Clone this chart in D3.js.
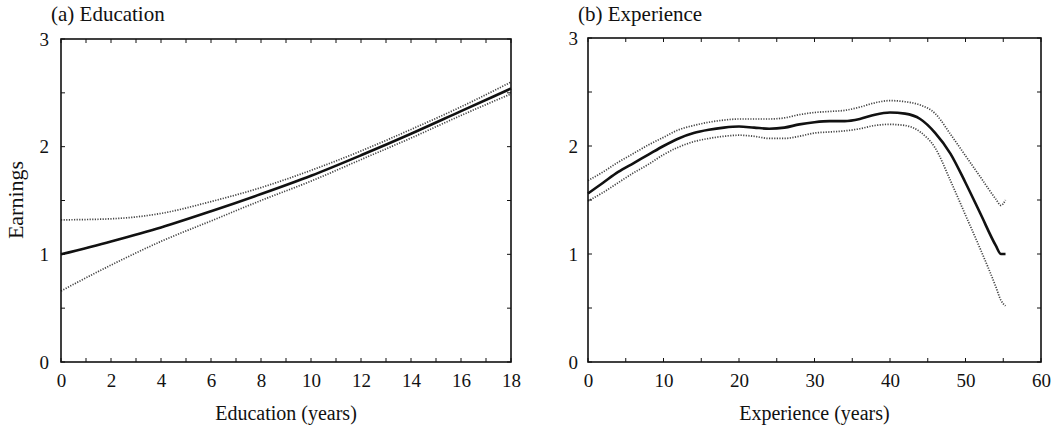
<!DOCTYPE html>
<html>
<head>
<meta charset="utf-8">
<script src="https://cdn.jsdelivr.net/npm/d3@7"></script>
<style>
  body { margin: 0; background: #fff; }
  svg text { font-family: "Liberation Serif", "DejaVu Serif", serif; fill: #111; }
  .tick-label { font-size: 19px; }
  .axis-title { font-size: 20px; }
  .panel-title { font-size: 21px; }
  .y-title { font-size: 22px; }
</style>
</head>
<body>
<div id="chart"></div>
<script>
// (a) education, years
const eduYears = [0, 2, 4, 6, 8, 10, 12, 14, 16, 18];
const eduMean  = [1.00, 1.12, 1.25, 1.40, 1.56, 1.73, 1.92, 2.12, 2.33, 2.54];
const eduUpper = [1.32, 1.33, 1.38, 1.49, 1.62, 1.78, 1.96, 2.16, 2.37, 2.60];
const eduLower = [0.66, 0.90, 1.12, 1.31, 1.50, 1.68, 1.88, 2.08, 2.29, 2.49];

// (b) experience, years
const expYears = [0, 2, 4, 6, 8, 10, 12, 14, 16, 18, 20, 22, 24, 26, 28, 30,
  32, 34, 36, 38, 40, 42, 44, 46, 48, 50, 52, 54, 54.7, 55.3];
const expMean  = [1.56, 1.66, 1.76, 1.84, 1.92, 2.00, 2.07, 2.12, 2.15, 2.17,
  2.18, 2.17, 2.16, 2.17, 2.20, 2.22, 2.23, 2.23, 2.25, 2.29, 2.31, 2.30, 2.25,
  2.12, 1.93, 1.66, 1.37, 1.08, 1.00, 1.00];
const expUpper = [1.68, 1.76, 1.85, 1.93, 2.01, 2.08, 2.15, 2.19, 2.22, 2.24,
  2.25, 2.25, 2.25, 2.26, 2.29, 2.31, 2.32, 2.33, 2.36, 2.40, 2.42, 2.41, 2.38,
  2.30, 2.11, 1.91, 1.71, 1.51, 1.45, 1.50];
const expLower = [1.49, 1.57, 1.66, 1.75, 1.83, 1.92, 1.99, 2.04, 2.07, 2.09,
  2.10, 2.09, 2.07, 2.07, 2.09, 2.12, 2.13, 2.14, 2.16, 2.19, 2.20, 2.19, 2.13,
  1.98, 1.68, 1.36, 1.04, 0.70, 0.57, 0.52];

const eduTicks = [0, 2, 4, 6, 8, 10, 12, 14, 16, 18];
const expTicks = [0, 10, 20, 30, 40, 50, 60];
const yTicks = [0, 1, 2, 3];

const svg = d3.select("#chart")
  .append("svg")
  .attr("width", 1063)
  .attr("height", 426);

class Panel {
  constructor(box, xDomain, xTicks, minorStep) {
    this.box = box;
    this.x = d3.scaleLinear().domain(xDomain).range([box.left, box.right]);
    this.y = d3.scaleLinear().domain([0, 3]).range([box.bottom, box.top]);
    this.xTicks = xTicks;
    this.minorStep = minorStep;
    this.g = svg.append("g");
  }

  drawAxes() {
    const b = this.box;
    this.g.append("g")
      .attr("transform", `translate(0, ${b.bottom})`)
      .call(d3.axisBottom(this.x).tickValues(this.xTicks).tickFormat(d3.format("d"))
        .tickSize(0).tickPadding(12))
      .call((a) => a.select(".domain").remove())
      .selectAll("text").attr("class", "tick-label").attr("fill", "#111");
    this.g.append("g")
      .attr("transform", `translate(${b.left}, 0)`)
      .call(d3.axisLeft(this.y).tickValues(yTicks).tickFormat(d3.format("d"))
        .tickSize(0).tickPadding(b.yPad))
      .call((a) => a.select(".domain").remove())
      .selectAll("text").attr("class", "tick-label").attr("fill", "#111");

    // inward minor ticks on all four sides
    const xs = d3.range(this.x.domain()[0], this.x.domain()[1] + 0.001, this.minorStep);
    const ys = d3.range(0, 3.001, 0.5);
    const t = 4;
    const ticks = this.g.append("g").attr("stroke", "#111").attr("stroke-width", 1);
    xs.forEach((v) => {
      ticks.append("line").attr("x1", this.x(v)).attr("x2", this.x(v))
        .attr("y1", b.bottom).attr("y2", b.bottom - t);
      ticks.append("line").attr("x1", this.x(v)).attr("x2", this.x(v))
        .attr("y1", b.top).attr("y2", b.top + t);
    });
    ys.forEach((v) => {
      ticks.append("line").attr("y1", this.y(v)).attr("y2", this.y(v))
        .attr("x1", b.left).attr("x2", b.left + t);
      ticks.append("line").attr("y1", this.y(v)).attr("y2", this.y(v))
        .attr("x1", b.right).attr("x2", b.right - t);
    });

    this.g.append("rect")
      .attr("x", b.left).attr("y", b.top)
      .attr("width", b.right - b.left).attr("height", b.bottom - b.top)
      .attr("fill", "none").attr("stroke", "#111").attr("stroke-width", 1.6);
  }

  drawCurve(xs, ys, dotted) {
    const line = d3.line()
      .x((d) => this.x(d[0]))
      .y((d) => this.y(d[1]))
      .curve(d3.curveMonotoneX);
    this.g.append("path")
      .datum(xs.map((v, i) => [v, ys[i]]))
      .attr("fill", "none")
      .attr("stroke", dotted ? "#444" : "#111")
      .attr("stroke-width", dotted ? 1.7 : 2.6)
      .attr("stroke-dasharray", dotted ? "1.2,1.4" : null)
      .attr("d", line);
  }

  setTitle(text) {
    this.g.append("text")
      .attr("class", "panel-title")
      .attr("x", this.box.left - 10)
      .attr("y", 21)
      .text(text);
  }

  setXLabel(text) {
    this.g.append("text")
      .attr("class", "axis-title")
      .attr("x", (this.box.left + this.box.right) / 2)
      .attr("y", 420)
      .attr("text-anchor", "middle")
      .text(text);
  }
}

const left = new Panel({ left: 61, right: 511, top: 39, bottom: 362, yPad: 12 },
  [0, 18], eduTicks, 1);
left.drawCurve(eduYears, eduUpper, true);
left.drawCurve(eduYears, eduLower, true);
left.drawCurve(eduYears, eduMean, false);
left.drawAxes();
left.setTitle("(a) Education");
left.setXLabel("Education (years)");

const right = new Panel({ left: 588, right: 1041, top: 38, bottom: 362, yPad: 10 },
  [0, 60], expTicks, 5);
right.drawCurve(expYears, expUpper, true);
right.drawCurve(expYears, expLower, true);
right.drawCurve(expYears, expMean, false);
right.drawAxes();
right.setTitle("(b) Experience");
right.setXLabel("Experience (years)");

svg.append("text")
  .attr("class", "y-title")
  .attr("transform", "translate(23, 200) rotate(-90)")
  .attr("text-anchor", "middle")
  .text("Earnings");
</script>
</body>
</html>
